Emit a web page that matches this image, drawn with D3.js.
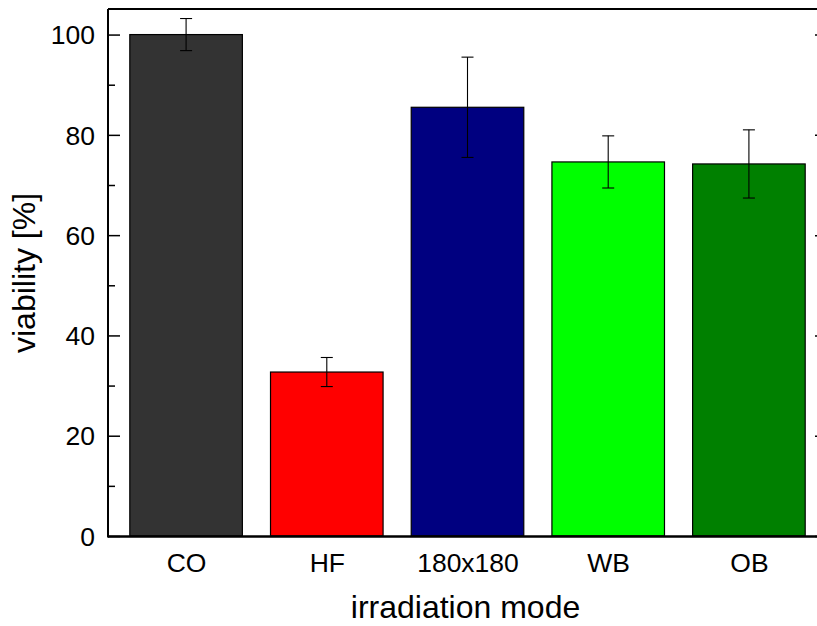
<!DOCTYPE html>
<html>
<head>
<meta charset="utf-8">
<script src="https://cdn.jsdelivr.net/npm/d3@7"></script>
<style>
  html, body { margin: 0; padding: 0; background: #fff; }
  svg { display: block; font-family: "Liberation Sans", Arial, sans-serif; }
</style>
</head>
<body>
<script>
// Cell viability per irradiation mode (mean ± error)
const categories = ["CO", "HF", "180x180", "WB", "OB"];
const viability = [100, 32.7, 85.5, 74.6, 74.2];
const errors = [3.2, 2.9, 10.0, 5.2, 6.8];
const barColors = ["#333333", "#ff0000", "#000080", "#00ff00", "#008000"];
const yMajorTicks = [0, 20, 40, 60, 80, 100];
const yMinorTicks = [10, 30, 50, 70, 90];

const width = 817, height = 626;
const frame = { left: 108, right: 827, top: 9, bottom: 536 };

const svg = d3.select("body").append("svg")
  .attr("width", width)
  .attr("height", height);

// Categories sit at positions 1..5 on a linear scale
const x = d3.scaleLinear()
  .domain([0.445, 5.555])
  .range([frame.left, frame.right]);

const y = d3.scaleLinear()
  .domain([0, 105.1])
  .range([frame.bottom, frame.top]);

const barWidth = 0.8; // in category units
const data = categories.map((c, i) => ({
  cat: c, pos: i + 1, value: viability[i], err: errors[i], color: barColors[i]
}));

// Bars
svg.append("g").selectAll("rect")
  .data(data)
  .join("rect")
  .attr("x", d => x(d.pos - barWidth / 2))
  .attr("width", d => x(d.pos + barWidth / 2) - x(d.pos - barWidth / 2))
  .attr("y", d => y(d.value))
  .attr("height", d => y(0) - y(d.value))
  .attr("fill", d => d.color)
  .attr("stroke", "#000")
  .attr("stroke-width", 1.2);

// Error bars
const capHalf = 6;
const eb = svg.append("g").attr("stroke", "#000").attr("stroke-width", 1.1);
eb.selectAll("line.stem")
  .data(data)
  .join("line")
  .attr("class", "stem")
  .attr("x1", d => x(d.pos)).attr("x2", d => x(d.pos))
  .attr("y1", d => y(d.value - d.err)).attr("y2", d => y(d.value + d.err));
eb.selectAll("line.capTop")
  .data(data)
  .join("line")
  .attr("class", "capTop")
  .attr("x1", d => x(d.pos) - capHalf).attr("x2", d => x(d.pos) + capHalf)
  .attr("y1", d => y(d.value + d.err)).attr("y2", d => y(d.value + d.err));
eb.selectAll("line.capBot")
  .data(data)
  .join("line")
  .attr("class", "capBot")
  .attr("x1", d => x(d.pos) - capHalf).attr("x2", d => x(d.pos) + capHalf)
  .attr("y1", d => y(d.value - d.err)).attr("y2", d => y(d.value - d.err));

// Left axis: major ticks with labels, pointing inward
const leftAxis = svg.append("g")
  .attr("transform", `translate(${frame.left},0)`)
  .call(d3.axisLeft(y).tickValues(yMajorTicks).tickSize(-12).tickPadding(13).tickSizeOuter(0));
leftAxis.select(".domain").remove();
leftAxis.selectAll("line").attr("stroke", "#000").attr("stroke-width", 1.5);
leftAxis.selectAll("text")
  .attr("font-size", 26.5)
  .attr("fill", "#000")
  .attr("dy", "0.35em");

// Left axis minor ticks
const leftMinor = svg.append("g")
  .attr("transform", `translate(${frame.left},0)`)
  .call(d3.axisLeft(y).tickValues(yMinorTicks).tickSize(-7).tickFormat(""));
leftMinor.select(".domain").remove();
leftMinor.selectAll("line").attr("stroke", "#000").attr("stroke-width", 1.5);

// Right axis: major ticks only, pointing inward
const rightAxis = svg.append("g")
  .attr("transform", `translate(${frame.right},0)`)
  .call(d3.axisRight(y).tickValues(yMajorTicks).tickSize(-12).tickFormat(""));
rightAxis.select(".domain").remove();
rightAxis.selectAll("line").attr("stroke", "#000").attr("stroke-width", 1.5);

// Bottom axis: category labels, no ticks
const bottomAxis = svg.append("g")
  .attr("transform", `translate(0,${frame.bottom})`)
  .call(d3.axisBottom(x)
    .tickValues(data.map(d => d.pos))
    .tickFormat((d, i) => categories[i])
    .tickSize(0)
    .tickPadding(17));
bottomAxis.select(".domain").remove();
bottomAxis.selectAll("text")
  .attr("font-size", 26.5)
  .attr("fill", "#000");

// Frame
const fr = svg.append("g").attr("stroke", "#000").attr("fill", "none");
fr.append("line").attr("x1", frame.left).attr("x2", frame.right)
  .attr("y1", frame.top).attr("y2", frame.top).attr("stroke-width", 2);
fr.append("line").attr("x1", frame.left).attr("x2", frame.right)
  .attr("y1", frame.bottom + 0.5).attr("y2", frame.bottom + 0.5).attr("stroke-width", 2.5);
fr.append("line").attr("x1", frame.left).attr("x2", frame.left)
  .attr("y1", frame.top).attr("y2", frame.bottom + 1.5).attr("stroke-width", 2);
fr.append("line").attr("x1", frame.right).attr("x2", frame.right)
  .attr("y1", frame.top).attr("y2", frame.bottom + 1.5).attr("stroke-width", 2);

// Axis titles
svg.append("text")
  .attr("x", 465.5)
  .attr("y", 618)
  .attr("text-anchor", "middle")
  .attr("font-size", 32)
  .attr("fill", "#000")
  .text("irradiation mode");

svg.append("text")
  .attr("transform", "translate(35,273) rotate(-90)")
  .attr("text-anchor", "middle")
  .attr("font-size", 32)
  .attr("fill", "#000")
  .text("viability [%]");
</script>
</body>
</html>
